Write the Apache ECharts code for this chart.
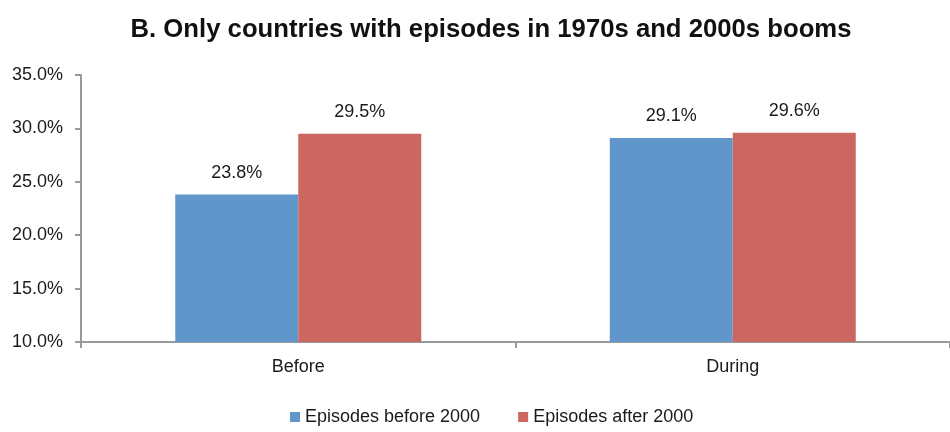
<!DOCTYPE html>
<html><head><meta charset="utf-8">
<script src="https://cdn.jsdelivr.net/npm/echarts@6/dist/echarts.min.js"></script>
<style>html,body{margin:0;padding:0;background:#fff}#c{width:950px;height:432px}</style>
</head><body><div id="c"></div>
<script>
const categories = ['Before', 'During'];
const seriesNames = ['Episodes before 2000', 'Episodes after 2000'];
const before2000 = [23.8, 29.1];
const after2000 = [29.5, 29.6];
const titleText = 'B. Only countries with episodes in 1970s and 2000s booms';

const FONT = '"Liberation Sans Narrow", "Arial Narrow", "Liberation Sans", sans-serif';
const chart = echarts.init(document.getElementById('c'));
const lbl = {
  show: true, position: 'top', distance: 13,
  formatter: p => p.value.toFixed(1) + '%',
  fontFamily: FONT, fontSize: 18, color: '#1a1a1a'
};
chart.setOption({
  animation: false,
  title: {
    text: titleText, left: 486, top: 12, textAlign: 'center',
    textStyle: { fontFamily: FONT, fontSize: 25.7, fontWeight: 'bold', color: '#111' }
  },
  legend: {
    bottom: 1, left: 285, itemWidth: 10, itemHeight: 10, itemGap: 38,
    icon: 'rect',
    textStyle: { fontFamily: FONT, fontSize: 18, color: '#1a1a1a' },
    data: seriesNames
  },
  grid: { left: 81, width: 874, top: 75, bottom: 90, containLabel: false },
  xAxis: {
    type: 'category', data: categories,
    axisLine: { lineStyle: { color: '#9a9a9a', width: 2 } },
    axisTick: { show: true, alignWithLabel: false, length: 6, lineStyle: { color: '#9a9a9a', width: 2 } },
    axisLabel: { fontFamily: FONT, fontSize: 18, color: '#1a1a1a', margin: 16 }
  },
  yAxis: {
    type: 'value', min: 10, max: 35, interval: 5,
    axisLine: { show: true, lineStyle: { color: '#9a9a9a', width: 2 } },
    axisTick: { show: true, length: 6, lineStyle: { color: '#9a9a9a', width: 2 } },
    splitLine: { show: false },
    axisLabel: { fontFamily: FONT, fontSize: 18, color: '#1a1a1a', margin: 18,
      formatter: v => v.toFixed(1) + '%' }
  },
  series: [
    { name: seriesNames[0], type: 'bar', data: before2000, barWidth: 123, barGap: '0%',
      itemStyle: { color: '#6096C9' }, label: lbl },
    { name: seriesNames[1], type: 'bar', data: after2000, barWidth: 123, barGap: '0%',
      itemStyle: { color: '#CB6660' }, label: lbl }
  ]
});
</script></body></html>
